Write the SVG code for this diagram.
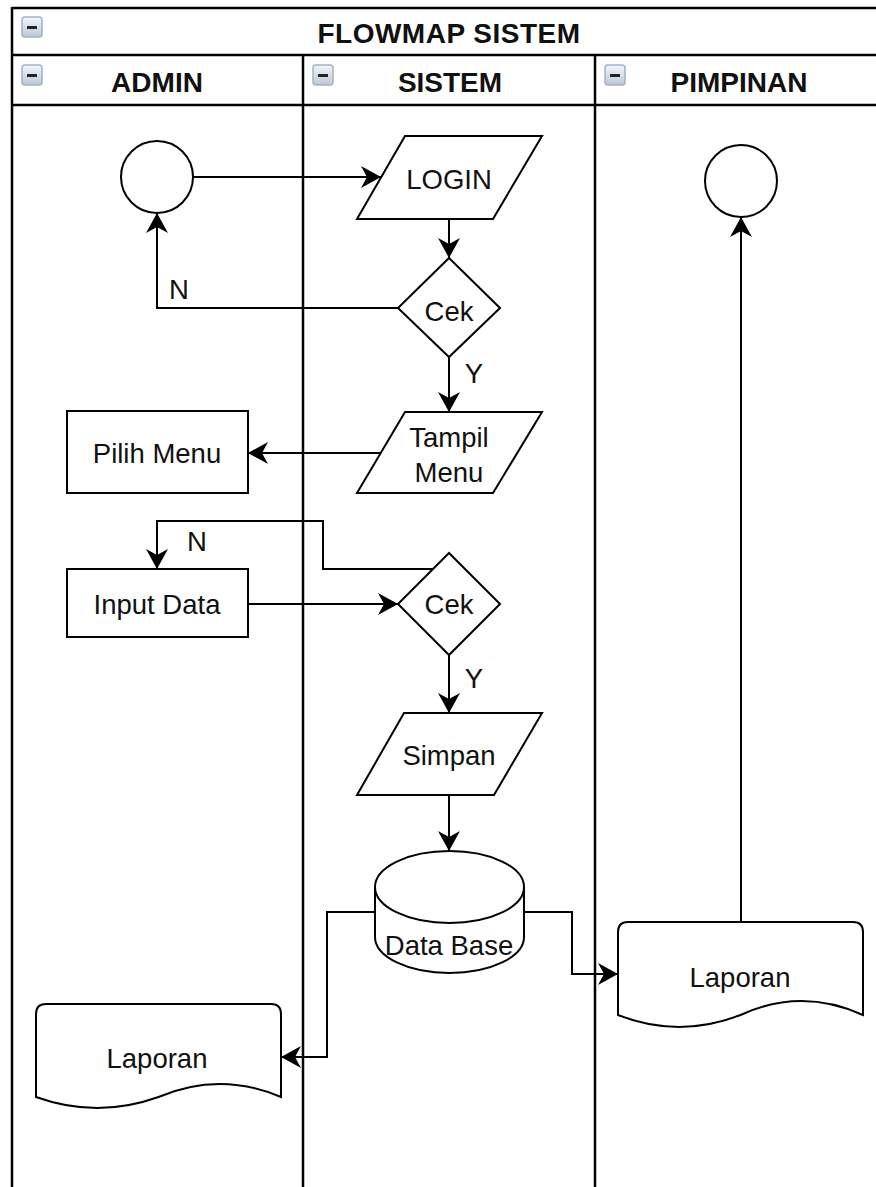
<svg xmlns="http://www.w3.org/2000/svg" width="876" height="1187" viewBox="0 0 876 1187">
<style>
.lane{stroke:#000;stroke-width:2.5;fill:none}
.shp{stroke:#000;stroke-width:2;fill:#fff}
.con{stroke:#000;stroke-width:2;fill:none}
.arr{marker-end:url(#ah)}
.t{font-family:"Liberation Sans",Arial,Helvetica,sans-serif;font-size:27.5px;fill:#111;text-anchor:middle}
.h{font-family:"Liberation Sans",Arial,Helvetica,sans-serif;font-size:28px;font-weight:bold;fill:#111;text-anchor:middle}
.ic{fill:url(#icg);stroke:#9fb3cc;stroke-width:1.5}
.mn{fill:#222}
</style>
<defs>
<linearGradient id="icg" x1="0" y1="0" x2="0" y2="1">
<stop offset="0" stop-color="#f3f6fa"/>
<stop offset="1" stop-color="#bcc7d4"/>
</linearGradient>
<marker id="ah" viewBox="0 0 20 22" markerUnits="userSpaceOnUse" markerWidth="20" markerHeight="22" refX="20" refY="11" orient="auto">
<path d="M0,0 L20,11 L0,22 L6,11 Z" fill="#000"/>
</marker>
</defs>
<rect x="0" y="0" width="876" height="1187" fill="#fff"/>

<g id="pool">
<line class="lane" x1="12" y1="8" x2="876" y2="8"/>
<line class="lane" x1="12" y1="55" x2="876" y2="55"/>
<line class="lane" x1="12" y1="105" x2="876" y2="105"/>
<line class="lane" x1="12" y1="7" x2="12" y2="1187"/>
<line class="lane" x1="303" y1="55" x2="303" y2="1187"/>
<line class="lane" x1="595" y1="55" x2="595" y2="1187"/>
<rect class="ic" x="22" y="17" width="20" height="20" rx="3"/>
<rect class="mn" x="27" y="26" width="10" height="3"/>
<text class="h" x="449" y="43" letter-spacing="0.5">FLOWMAP SISTEM</text>
</g>
<g id="lane-admin">
<rect class="ic" x="22" y="65" width="20" height="20" rx="3"/>
<rect class="mn" x="27" y="74" width="10" height="3"/>
<text class="h" x="157" y="92">ADMIN</text>
</g>
<g id="lane-sistem">
<rect class="ic" x="313" y="65" width="20" height="20" rx="3"/>
<rect class="mn" x="318" y="74" width="10" height="3"/>
<text class="h" x="450" y="92">SISTEM</text>
</g>
<g id="lane-pimpinan">
<rect class="ic" x="605" y="65" width="20" height="20" rx="3"/>
<rect class="mn" x="610" y="74" width="10" height="3"/>
<text class="h" x="739" y="92">PIMPINAN</text>
</g>

<g id="connectors">
<line class="con arr" x1="193" y1="177" x2="381" y2="177"/>
<line class="con arr" x1="449" y1="219" x2="449" y2="258"/>
<polyline class="con arr" points="398,308 157,308 157,213"/>
<line class="con arr" x1="449" y1="357" x2="449" y2="412"/>
<line class="con arr" x1="381" y1="453" x2="248" y2="453"/>
<line class="con arr" x1="248" y1="604" x2="398" y2="604"/>
<polyline class="con arr" points="433,569 323,569 323,521 157,521 157,569"/>
<line class="con arr" x1="449" y1="655" x2="449" y2="713"/>
<line class="con arr" x1="449" y1="795" x2="449" y2="851"/>
<polyline class="con arr" points="375,912 327,912 327,1057 281,1057"/>
<polyline class="con arr" points="524,912 572,912 572,974 618,974"/>
<line class="con arr" x1="741" y1="922" x2="741" y2="217"/>
<text class="t" x="179" y="299">N</text>
<text class="t" x="474" y="383">Y</text>
<text class="t" x="197" y="551">N</text>
<text class="t" x="474" y="688">Y</text>
</g>

<g id="start-admin">
<circle class="shp" cx="157" cy="177" r="36"/>
</g>
<g id="login">
<polygon class="shp" points="405,136 542,136 493,219 357,219"/>
<text class="t" x="449" y="189">LOGIN</text>
</g>
<g id="cek1">
<polygon class="shp" points="449,258 500,308 449,357 398,308"/>
<text class="t" x="449" y="321">Cek</text>
</g>
<g id="tampil-menu">
<polygon class="shp" points="405,412 542,412 493,493 357,493"/>
<text class="t" x="449" y="447">Tampil</text>
<text class="t" x="449" y="482">Menu</text>
</g>
<g id="pilih-menu">
<rect class="shp" x="67" y="411" width="181" height="82"/>
<text class="t" x="157" y="463">Pilih Menu</text>
</g>
<g id="input-data">
<rect class="shp" x="67" y="569" width="181" height="68"/>
<text class="t" x="157" y="614">Input Data</text>
</g>
<g id="cek2">
<polygon class="shp" points="449,553 500,604 449,655 398,604"/>
<text class="t" x="449" y="614">Cek</text>
</g>
<g id="simpan">
<polygon class="shp" points="404,713 542,713 494,795 357,795"/>
<text class="t" x="449" y="765">Simpan</text>
</g>
<g id="database">
<path class="shp" d="M375,887 A74.5,36 0 0 1 524,887 L524,937 A74.5,36 0 0 1 375,937 Z"/>
<path class="con" d="M375,887 A74.5,36 0 0 0 524,887"/>
<text class="t" x="449" y="955">Data Base</text>
</g>
<g id="laporan-pimpinan">
<path class="shp" d="M618,1015 L618,932 Q618,922 628,922 L853,922 Q863,922 863,932 L863,1015 Q801.5,987 740.5,1015 Q679,1039 618,1015 Z"/>
<text class="t" x="740" y="987">Laporan</text>
</g>
<g id="end-pimpinan">
<circle class="shp" cx="741" cy="181" r="36"/>
</g>
<g id="laporan-admin">
<path class="shp" d="M36,1097 L36,1014 Q36,1004 46,1004 L271,1004 Q281,1004 281,1014 L281,1097 Q219.75,1071 158.5,1097 Q97.25,1119 36,1097 Z"/>
<text class="t" x="157" y="1068">Laporan</text>
</g>
</svg>
